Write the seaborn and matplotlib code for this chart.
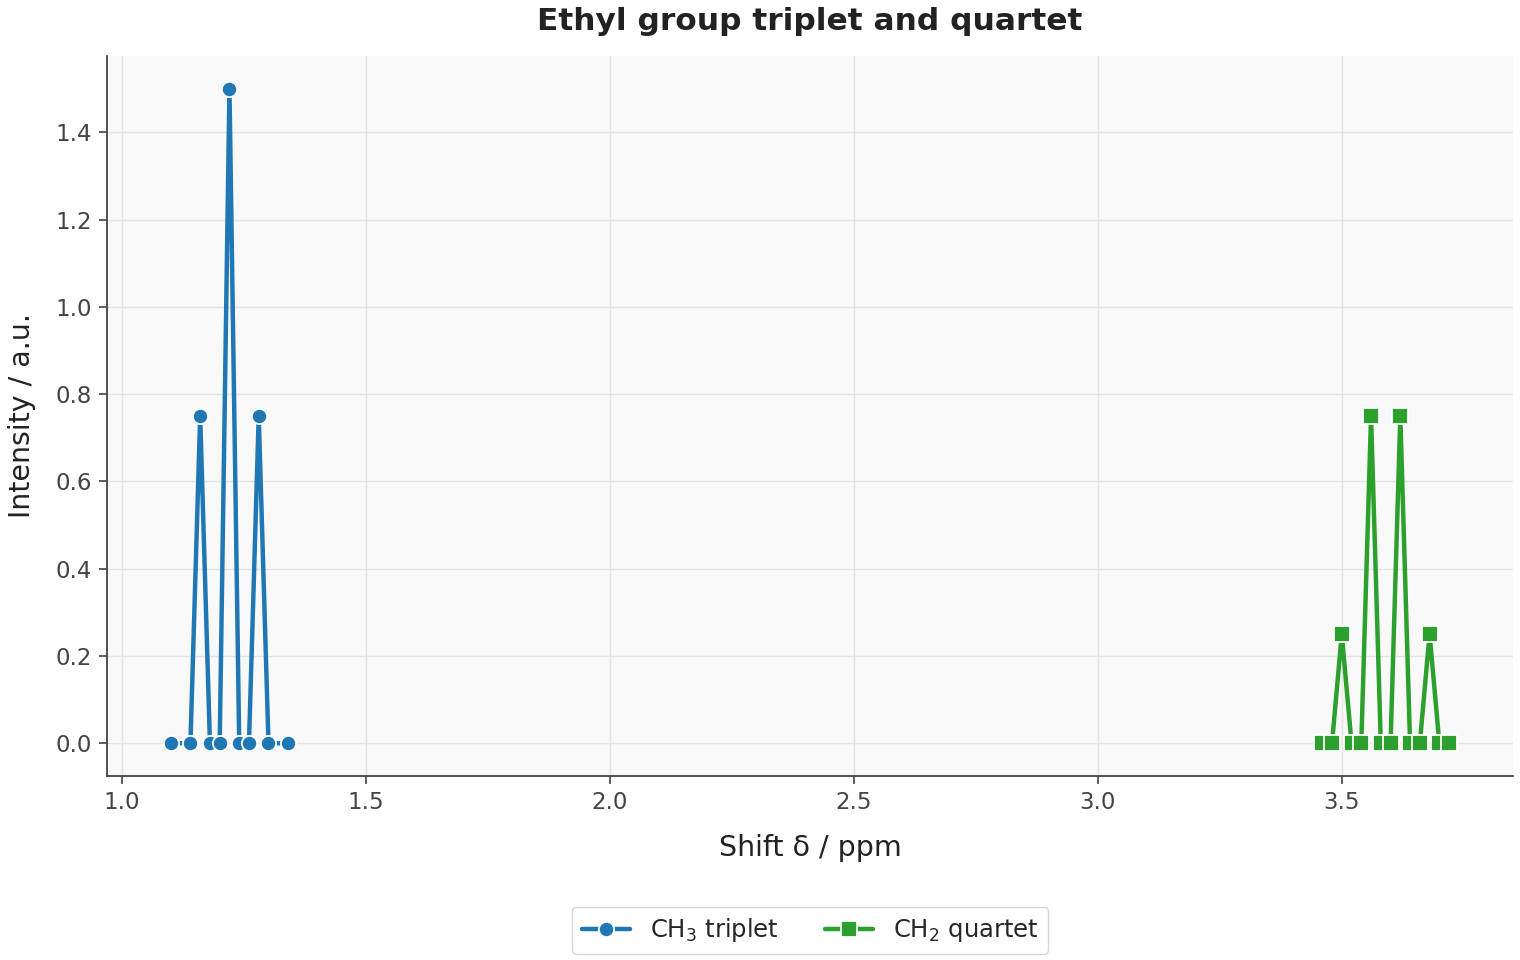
import matplotlib
matplotlib.use("Agg")
import matplotlib.pyplot as plt
import seaborn as sns
import pandas as pd

# Data
ch3_shift = [1.10, 1.14, 1.16, 1.18, 1.20, 1.22, 1.24, 1.26, 1.28, 1.30, 1.34]
ch3_intensity = [0.0, 0.0, 0.75, 0.0, 0.0, 1.5, 0.0, 0.0, 0.75, 0.0, 0.0]
ch2_shift = [3.46, 3.48, 3.50, 3.52, 3.54, 3.56, 3.58, 3.60, 3.62, 3.64, 3.66, 3.68, 3.70, 3.72]
ch2_intensity = [0.0, 0.0, 0.25, 0.0, 0.0, 0.75, 0.0, 0.0, 0.75, 0.0, 0.0, 0.25, 0.0, 0.0]
series_labels = ["CH$_3$ triplet", "CH$_2$ quartet"]

df = pd.concat([
    pd.DataFrame({"shift": ch3_shift, "intensity": ch3_intensity, "series": series_labels[0]}),
    pd.DataFrame({"shift": ch2_shift, "intensity": ch2_intensity, "series": series_labels[1]}),
], ignore_index=True)

sns.set_theme(style="whitegrid")
plt.rcParams["font.family"] = ["DejaVu Sans"]

fig = plt.figure(figsize=(15.2, 9.6), dpi=100)
ax = fig.add_axes([0.0704, 0.1917, 0.925, 0.75])
ax.set_facecolor("#f9f9f9")

sns.lineplot(
    data=df, x="shift", y="intensity", hue="series", style="series",
    palette={series_labels[0]: "#1f77b4", series_labels[1]: "#2ca02c"},
    markers={series_labels[0]: "o", series_labels[1]: "s"},
    dashes=False, linewidth=3.2, markersize=11, markeredgecolor="white",
    markeredgewidth=1.3, ax=ax, legend=True, sort=True,
)

ax.grid(True, color="#e3e3e8", linewidth=1.0)
for s in ["top", "right"]:
    ax.spines[s].set_visible(False)
for s in ["left", "bottom"]:
    ax.spines[s].set_color("#444444")
    ax.spines[s].set_linewidth(1.3)
ax.tick_params(axis="both", which="both", length=6, width=1.2, color="#444444",
               labelsize=16.5, labelcolor="#444444", bottom=True, left=True, pad=5)

ax.set_title("Ethyl group triplet and quartet", fontsize=22.5, fontweight="bold",
             color="#222222", pad=19)
ax.set_xlabel("Shift δ / ppm", fontsize=20.5, color="#222222", labelpad=14)
ax.set_ylabel("Intensity / a.u.", fontsize=20.5, color="#222222", labelpad=14)

handles, labels = ax.get_legend_handles_labels()
ax.legend_.remove()
fig.legend(handles, labels, loc="center", bbox_to_anchor=(0.533, 0.031), ncol=2,
           fontsize=17.5, frameon=True, edgecolor="#cccccc", columnspacing=1.9,
           handlelength=2.0)

fig.savefig("out.png", dpi=100)
